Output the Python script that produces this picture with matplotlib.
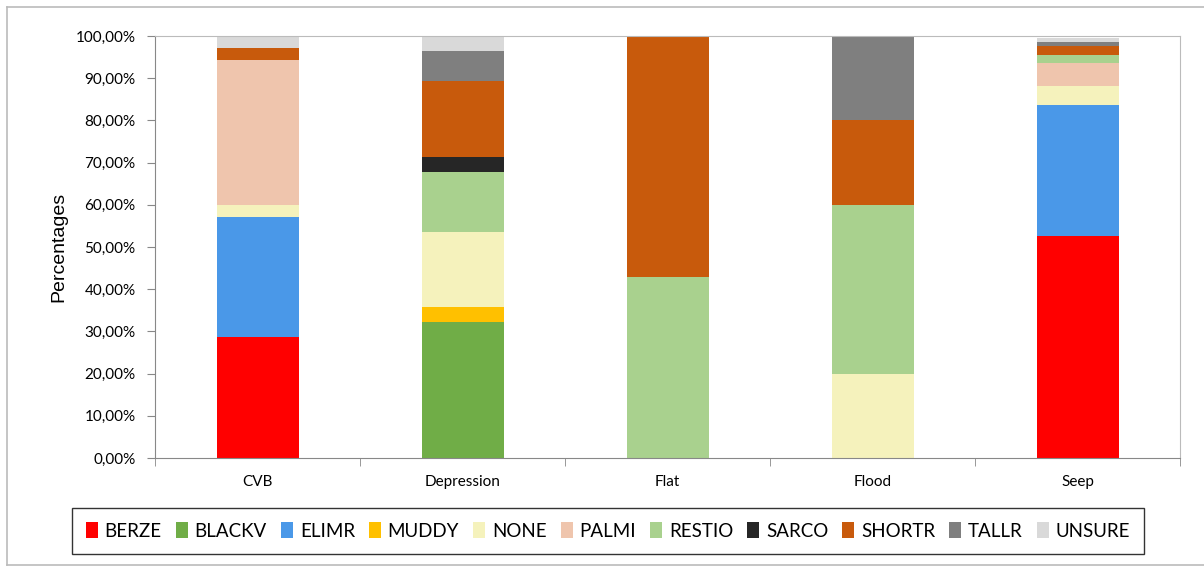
import matplotlib.pyplot as plt
import numpy as np
from matplotlib.lines import Line2D
from matplotlib.ticker import FuncFormatter

sites = ["CVB", "Depression", "Flat", "Flood", "Seep"]
classes = ["BERZE", "BLACKV", "ELIMR", "MUDDY", "NONE", "PALMI",
           "RESTIO", "SARCO", "SHORTR", "TALLR", "UNSURE"]
colors = ["#FF0000", "#70AD47", "#4A98E8", "#FFC000", "#F5F2BC", "#EFC5AD",
          "#A9D18E", "#262626", "#C85A0C", "#7F7F7F", "#D9D9D9"]

# percentages per class, one value per site (CVB, Depression, Flat, Flood, Seep)
berze = [28.57, 0, 0, 0, 52.7]
blackv = [0, 32.14, 0, 0, 0]
elimr = [28.57, 0, 0, 0, 30.9]
muddy = [0, 3.57, 0, 0, 0]
none_ = [2.86, 17.86, 0, 20.0, 4.5]
palmi = [34.29, 0, 0, 0, 5.5]
restio = [0, 14.29, 42.86, 40.0, 1.8]
sarco = [0, 3.57, 0, 0, 0]
shortr = [2.86, 17.86, 57.14, 20.0, 2.3]
tallr = [0, 7.14, 0, 20.0, 0.9]
unsure = [2.86, 3.57, 0, 0, 0.9]

series = [berze, blackv, elimr, muddy, none_, palmi,
          restio, sarco, shortr, tallr, unsure]

fig = plt.figure(figsize=(12.04, 5.68), dpi=100)
ax = fig.add_axes([155 / 1204, 1 - 458 / 568, 1025 / 1204, 422 / 568])

x = np.arange(len(sites))
bottom = np.zeros(len(sites))
for name, vals, c in zip(classes, series, colors):
    ax.bar(x, vals, 0.4, bottom=bottom, color=c, label=name, zorder=2)
    bottom += np.array(vals)

ax.set_xlim(-0.5, len(sites) - 0.5)
ax.set_ylim(0, 100)
ax.set_yticks(np.arange(0, 101, 10))
ax.yaxis.set_major_formatter(FuncFormatter(lambda v, p: ("%.2f%%" % v).replace(".", ",")))
ax.set_xticks(x)
ax.set_xticklabels(sites, fontfamily="Lato", fontsize=11)
ax.set_xticks(np.arange(-0.5, len(sites)), minor=True)
for t in ax.get_yticklabels():
    t.set_fontfamily("Lato")
    t.set_fontsize(11)
ax.tick_params(axis="x", which="major", length=0, pad=12)
ax.tick_params(axis="x", which="minor", length=6, color="#888888", direction="out")
ax.tick_params(axis="y", length=6, color="#888888", direction="out", pad=8)

for s in ax.spines.values():
    s.set_color("#BBBBBB")
ax.spines["left"].set_color("#888888")
ax.spines["bottom"].set_color("#888888")

ax.set_ylabel("Percentages", fontfamily="Liberation Sans", fontsize=14, labelpad=6)

leg = fig.legend(loc="center", bbox_to_anchor=(608 / 1204, 1 - 531 / 568), ncol=11,
                 frameon=True, fancybox=False, edgecolor="black",
                 prop={"family": "Lato", "size": 13.5},
                 handlelength=0.65, handleheight=0.95, handletextpad=0.35,
                 columnspacing=0.75, borderpad=0.75)
leg.get_frame().set_linewidth(1.0)

# outer chart border
fig.add_artist(Line2D([7 / 1204, 7 / 1204], [1 - 7 / 568, 1 - 565 / 568], color="#BBBBBB", lw=1.2))
fig.add_artist(Line2D([7 / 1204, 1.0], [1 - 7 / 568, 1 - 7 / 568], color="#BBBBBB", lw=1.2))
fig.add_artist(Line2D([7 / 1204, 1.0], [1 - 565 / 568, 1 - 565 / 568], color="#BBBBBB", lw=1.2))

fig.savefig("out.png", dpi=100)
